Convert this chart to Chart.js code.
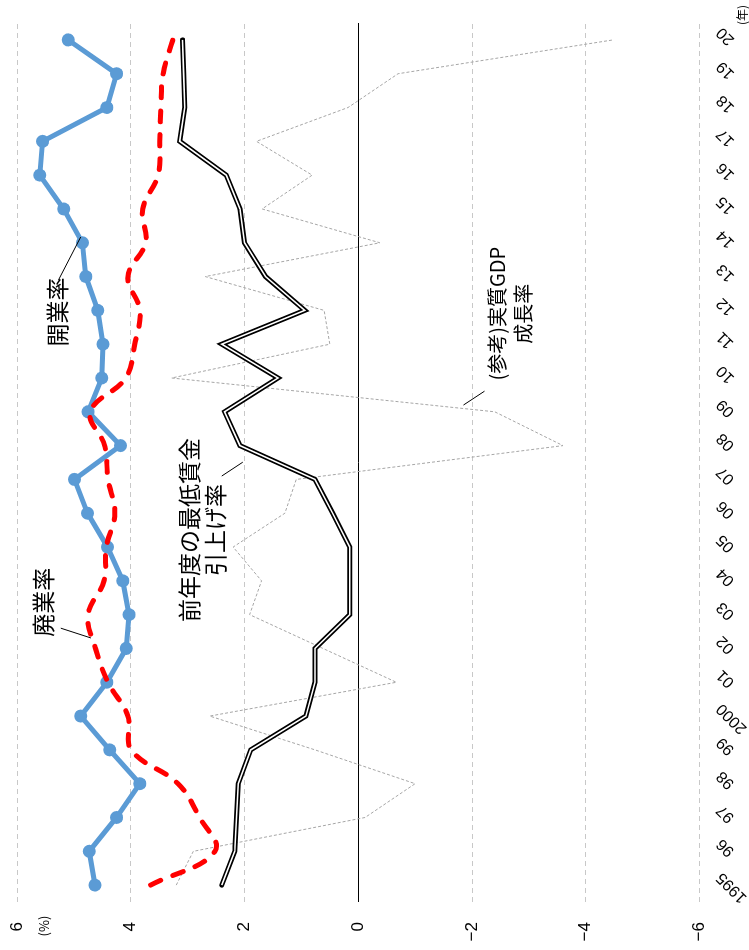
<!DOCTYPE html>
<html lang="ja">
<head>
<meta charset="utf-8">
<title>開業率・廃業率と最低賃金引上げ率</title>
<script src="https://cdn.jsdelivr.net/npm/chart.js@4.4.1/dist/chart.umd.min.js"></script>
<style>
  html, body { margin: 0; padding: 0; background: #fff; overflow: hidden; }
  body { width: 749px; height: 950px; position: relative; }
  /* the chart is laid out landscape and turned a quarter turn to the left */
  #wrap {
    position: absolute; left: 0; top: 0;
    width: 950px; height: 749px;
    transform-origin: 0 0;
    transform: translate(0, 950px) rotate(-90deg);
  }
</style>
</head>
<body>
<div id="wrap"><canvas id="chart" width="950" height="749"></canvas></div>
<script>
const years = ["1995", "96", "97", "98", "99", "2000", "01", "02", "03", "04", "05", "06", "07",
  "08", "09", "10", "11", "12", "13", "14", "15", "16", "17", "18", "19", "20"];

// 開業率 (%)
const openingRate = [4.63, 4.73, 4.25, 3.84, 4.37, 4.88, 4.42, 4.08, 4.03, 4.14, 4.41, 4.76, 4.99,
  4.18, 4.75, 4.51, 4.49, 4.58, 4.79, 4.85, 5.18, 5.60, 5.55, 4.42, 4.25, 5.10];

// 廃業率 (%)
const closingRate = [3.65, 2.52, 2.79, 3.17, 3.99, 4.05, 4.40, 4.62, 4.75, 4.47, 4.43, 4.28, 4.40,
  4.46, 4.71, 4.09, 3.93, 3.84, 4.05, 3.74, 3.79, 3.52, 3.49, 3.47, 3.43, 3.26];

// 前年度の最低賃金引上げ率 (%)
const minWageRise = [2.40, 2.17, 2.14, 2.11, 1.89, 0.92, 0.76, 0.76, 0.15, 0.15, 0.15, 0.45, 0.76,
  2.08, 2.35, 1.41, 2.40, 0.94, 1.63, 2.00, 2.08, 2.32, 3.14, 3.05, 3.07, 3.09];

// (参考)実質GDP成長率 (%)
const gdpGrowth = [3.20, 2.90, -0.12, -1.00, 0.76, 2.61, -0.67, 0.62, 1.91, 1.70, 2.20, 1.29, 1.09,
  -3.60, -2.40, 3.28, 0.50, 0.60, 2.69, -0.38, 1.69, 0.81, 1.79, 0.18, -0.70, -4.48];

const valueMin = -6;
const valueMax = 6;
const valueStep = 2;

const NUM_FONT = "'Liberation Sans', Arial, sans-serif";
const JP_FONT = "'Noto Sans CJK JP', 'Noto Sans', sans-serif";

// series labels placed on the plot: [category index, value]
const notes = [
  { lines: ["開業率"], at: [16.95, 5.30], size: 23, leader: [[17.9, 5.27], [19.17, 4.88]] },
  { lines: ["廃業率"], at: [8.37, 5.53], size: 23, leader: [[7.6, 5.23], [7.31, 4.70]] },
  { lines: ["前年度の最低賃金", "引上げ率"], at: [10.5, 2.74], size: 23, gap: 26,
    leader: [[12.1, 2.40], [12.51, 2.03]] },
  { lines: ["(参考)実質GDP", "成長率"], at: [16.9, -2.68], size: 20, gap: 26,
    leader: [[14.2, -1.85], [14.61, -2.22]] }
];

const zeroLine = {
  id: "zeroLine",
  beforeDatasetsDraw(chart) {
    const { ctx, chartArea, scales: { y } } = chart;
    const py = Math.round(y.getPixelForValue(0)) + 0.5;
    ctx.save();
    ctx.strokeStyle = "#000";
    ctx.lineWidth = 1;
    ctx.beginPath();
    ctx.moveTo(chartArea.left, py);
    ctx.lineTo(chartArea.right, py);
    ctx.stroke();
    ctx.restore();
  }
};

const annotate = {
  id: "annotate",
  afterDraw(chart) {
    const { ctx, chartArea, scales: { x, y } } = chart;
    ctx.save();
    ctx.fillStyle = "#000";
    ctx.strokeStyle = "#000";
    ctx.lineWidth = 1;
    ctx.textAlign = "center";
    ctx.textBaseline = "middle";
    notes.forEach(n => {
      ctx.font = `${n.size}px ${JP_FONT}`;
      const cx = x.getPixelForValue(n.at[0]);
      const cy = y.getPixelForValue(n.at[1]);
      const gap = n.gap || 0;
      const first = cy - (n.lines.length - 1) * gap / 2;
      n.lines.forEach((t, i) => ctx.fillText(t, cx, first + i * gap));
      const [a, b] = n.leader;
      ctx.beginPath();
      ctx.moveTo(x.getPixelForValue(a[0]), y.getPixelForValue(a[1]));
      ctx.lineTo(x.getPixelForValue(b[0]), y.getPixelForValue(b[1]));
      ctx.stroke();
    });

    // units
    ctx.font = `13px ${JP_FONT}`;
    ctx.fillText("(%)", chartArea.left - 24, y.getPixelForValue(valueMax) + 27);
    ctx.font = `12px ${JP_FONT}`;
    ctx.fillText("(年)", chartArea.right + 8, chart.height - 7);
    ctx.restore();
  }
};

const ctx = document.getElementById("chart").getContext("2d");

new Chart(ctx, {
  type: "line",
  data: {
    labels: years,
    datasets: [
      {
        label: "廃業率",
        data: closingRate,
        borderColor: "#ff0000",
        borderWidth: 5,
        borderDash: [11, 13],
        borderCapStyle: "round",
        tension: 0.4,
        pointRadius: 0,
        order: 0
      },
      {
        label: "開業率",
        data: openingRate,
        borderColor: "#5b9bd5",
        backgroundColor: "#5b9bd5",
        borderWidth: 5,
        pointRadius: 6.5,
        pointBorderWidth: 0,
        order: 1
      },
      {
        // inner white stroke makes the double line
        label: "前年度の最低賃金引上げ率",
        data: minWageRise,
        borderColor: "#ffffff",
        borderWidth: 1.6,
        borderJoinStyle: "miter",
        pointRadius: 0,
        order: 2
      },
      {
        label: "前年度の最低賃金引上げ率",
        data: minWageRise,
        borderColor: "#000000",
        borderWidth: 5,
        borderJoinStyle: "miter",
        borderCapStyle: "round",
        pointRadius: 0,
        order: 3
      },
      {
        label: "(参考)実質GDP成長率",
        data: gdpGrowth,
        borderColor: "#a6a6a6",
        borderWidth: 1,
        borderDash: [3, 2],
        pointRadius: 0,
        order: 4
      }
    ]
  },
  options: {
    responsive: false,
    animation: false,
    devicePixelRatio: 1,
    events: [],
    layout: { padding: { top: 17, right: 23, bottom: 0, left: 0 } },
    plugins: {
      legend: { display: false },
      tooltip: { enabled: false }
    },
    scales: {
      x: {
        type: "category",
        offset: true,
        grid: { display: false, drawTicks: false },
        border: { display: false },
        afterFit(scale) { scale.height = 49.5; },
        ticks: {
          autoSkip: false,
          minRotation: 45,
          maxRotation: 45,
          padding: 13,
          labelOffset: 10,
          color: "#000",
          font: { family: NUM_FONT, size: 16 }
        }
      },
      y: {
        min: valueMin,
        max: valueMax,
        afterFit(scale) {
          scale.width = 48;
          // keep the plot top where the 6% line sits in the original
          scale.paddingTop = 0;
          scale.paddingBottom = 0;
        },
        grid: {
          drawTicks: false,
          color: c => (c.tick && c.tick.value === 0 ? "rgba(0,0,0,0)" : "#c8c8c8"),
          lineWidth: 1
        },
        border: { display: false, dash: [5, 4] },
        ticks: {
          stepSize: valueStep,
          padding: 20,
          color: "#000",
          font: { family: NUM_FONT, size: 17 },
          callback: v => (v < 0 ? "\u2212" + Math.abs(v) : String(v))
        }
      }
    }
  },
  plugins: [zeroLine, annotate]
});
</script>
</body>
</html>
